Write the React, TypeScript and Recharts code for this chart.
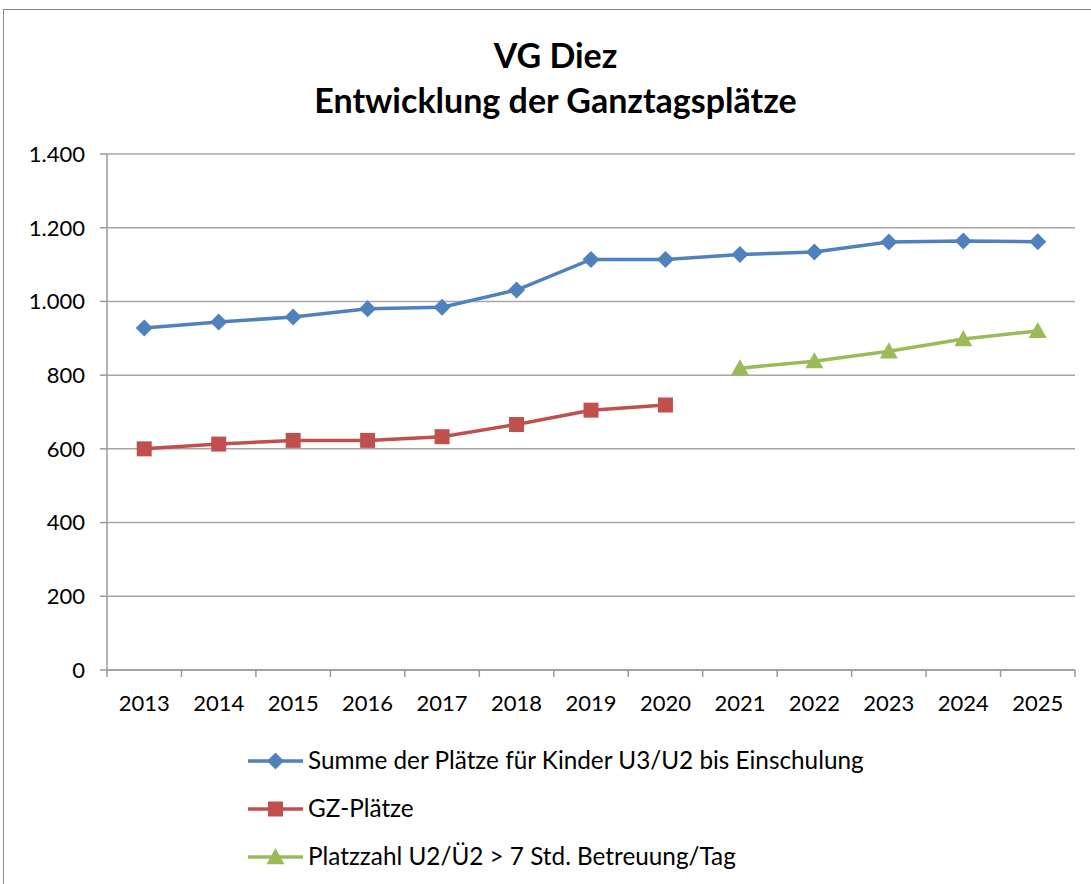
import React from 'react';
import { LineChart, Line, XAxis, YAxis, CartesianGrid } from 'recharts';

const years = ['2013', '2014', '2015', '2016', '2017', '2018', '2019', '2020', '2021', '2022', '2023', '2024', '2025'];
const summe = [928, 944, 958, 980, 984, 1031, 1114, 1114, 1127, 1134, 1161, 1164, 1162];
const gzPlaetze = [600, 613, 623, 623, 633, 666, 705, 719, null, null, null, null, null];
const platzzahl = [null, null, null, null, null, null, null, null, 819, 838, 865, 898, 920];
const yTicks = [0, 200, 400, 600, 800, 1000, 1200, 1400];

const titleLine1 = 'VG Diez';
const titleLine2 = 'Entwicklung der Ganztagsplätze';
const seriesNames = [
  'Summe der Plätze für Kinder U3/U2 bis Einschulung',
  'GZ-Plätze',
  'Platzzahl U2/Ü2 > 7 Std. Betreuung/Tag',
];

const BLUE = '#4F81BD';
const RED = '#C0504D';
const GREEN = '#9BBB59';
const FONT = 'Lato, "Open Sans", sans-serif';

const data = years.map((y, i) => ({ year: y, summe: summe[i], gz: gzPlaetze[i], platz: platzzahl[i] }));

const PLOT_LEFT = 107;
const PLOT_RIGHT = 1075;
const BAND = (PLOT_RIGHT - PLOT_LEFT) / years.length;

const fmt = (v: number) => v.toLocaleString('de-DE');

const Diamond = (props: any) => {
  const { cx, cy, fill } = props;
  const r = 8.5;
  if (cx == null || cy == null) return <g key={props.key} />;
  return <path key={props.key} d={`M${cx},${cy - r} L${cx + r},${cy} L${cx},${cy + r} L${cx - r},${cy} Z`} fill={fill} />;
};
const Square = (props: any) => {
  const { cx, cy, fill } = props;
  const s = 7.5;
  if (cx == null || cy == null) return <g key={props.key} />;
  return <rect key={props.key} x={cx - s} y={cy - s} width={2 * s} height={2 * s} fill={fill} />;
};
const Triangle = (props: any) => {
  const { cx, cy, fill } = props;
  const s = 9;
  if (cx == null || cy == null) return <g key={props.key} />;
  return <path key={props.key} d={`M${cx},${cy - s} L${cx + s},${cy + s * 0.8} L${cx - s},${cy + s * 0.8} Z`} fill={fill} />;
};

const XTick = (props: any) => {
  const { x, y, payload, index } = props;
  const left = x - BAND / 2;
  const isLast = index === years.length - 1;
  return (
    <g>
      <line x1={left} y1={y} x2={left} y2={y + 7} stroke="#9a9a9a" strokeWidth={1.5} />
      {isLast && <line x1={x + BAND / 2} y1={y} x2={x + BAND / 2} y2={y + 7} stroke="#9a9a9a" strokeWidth={1.5} />}
      <text x={x} y={y + 41} textAnchor="middle" fontSize={22} fontFamily={FONT} fill="#000">
        {payload.value}
      </text>
    </g>
  );
};

const LegendBox = () => {
  const rows = [
    { name: seriesNames[0], color: BLUE, M: Diamond },
    { name: seriesNames[1], color: RED, M: Square },
    { name: seriesNames[2], color: GREEN, M: Triangle },
  ];
  return (
    <svg width={720} height={130} style={{ position: 'absolute', left: 248, top: 736, overflow: 'visible' }}>
      {rows.map((r, i) => {
        const cy = 25 + i * 48;
        const M = r.M;
        return (
          <g key={i}>
            <line x1={0} y1={cy} x2={55} y2={cy} stroke={r.color} strokeWidth={3.5} />
            <M cx={27.5} cy={cy} fill={r.color} />
            <text x={60} y={cy + 8} fontSize={24.3} fontFamily={FONT} fill="#000">{r.name}</text>
          </g>
        );
      })}
    </svg>
  );
};

export default function App() {
  return (
    <div style={{ position: 'absolute', left: 0, top: 0, width: 1091, height: 884, background: '#fff', overflow: 'hidden' }}>
      <div style={{ position: 'absolute', left: 3, top: 9, width: 1100, height: 900, border: '1px solid #8c8c8c' }} />
      <div style={{ position: 'absolute', left: 0, top: 32, width: 1111, textAlign: 'center', fontFamily: FONT, fontWeight: 700, fontSize: 34, lineHeight: '45px', color: '#000' }}>
        <div>{titleLine1}</div>
        <div>{titleLine2}</div>
      </div>
      <div style={{ position: 'absolute', left: 0, top: 0 }}>
        <LineChart width={1091} height={884} data={data} margin={{ top: 154, right: 16, bottom: 174, left: 0 }}>
          <CartesianGrid vertical={false} stroke="#a6a6a6" strokeWidth={1.5} />
          <XAxis
            dataKey="year"
            tick={<XTick />}
            tickLine={false}
            tickSize={0}
            tickMargin={0}
            height={40}
            padding={{ left: BAND / 2, right: BAND / 2 }}
            axisLine={{ stroke: '#9a9a9a', strokeWidth: 1.5 }}
            interval={0}
          />
          <YAxis
            domain={[0, 1400]}
            ticks={yTicks}
            width={107}
            tickFormatter={fmt}
            tickSize={7}
            tickMargin={15}
            tick={{ fontSize: 22, fontFamily: FONT, fill: '#000' }}
            tickLine={{ stroke: '#9a9a9a', strokeWidth: 1.5 }}
            axisLine={{ stroke: '#9a9a9a', strokeWidth: 1.5 }}
          />
          <Line
            type="linear"
            dataKey="summe"
            name={seriesNames[0]}
            stroke={BLUE}
            strokeWidth={3.5}
            dot={(p: any) => <Diamond {...p} fill={BLUE} />}
            activeDot={false}
            isAnimationActive={false}
          />
          <Line
            type="linear"
            dataKey="gz"
            name={seriesNames[1]}
            stroke={RED}
            strokeWidth={3.5}
            dot={(p: any) => <Square {...p} fill={RED} />}
            activeDot={false}
            isAnimationActive={false}
          />
          <Line
            type="linear"
            dataKey="platz"
            name={seriesNames[2]}
            stroke={GREEN}
            strokeWidth={3.5}
            dot={(p: any) => <Triangle {...p} fill={GREEN} />}
            activeDot={false}
            isAnimationActive={false}
          />
        </LineChart>
      </div>
      <LegendBox />
    </div>
  );
}
